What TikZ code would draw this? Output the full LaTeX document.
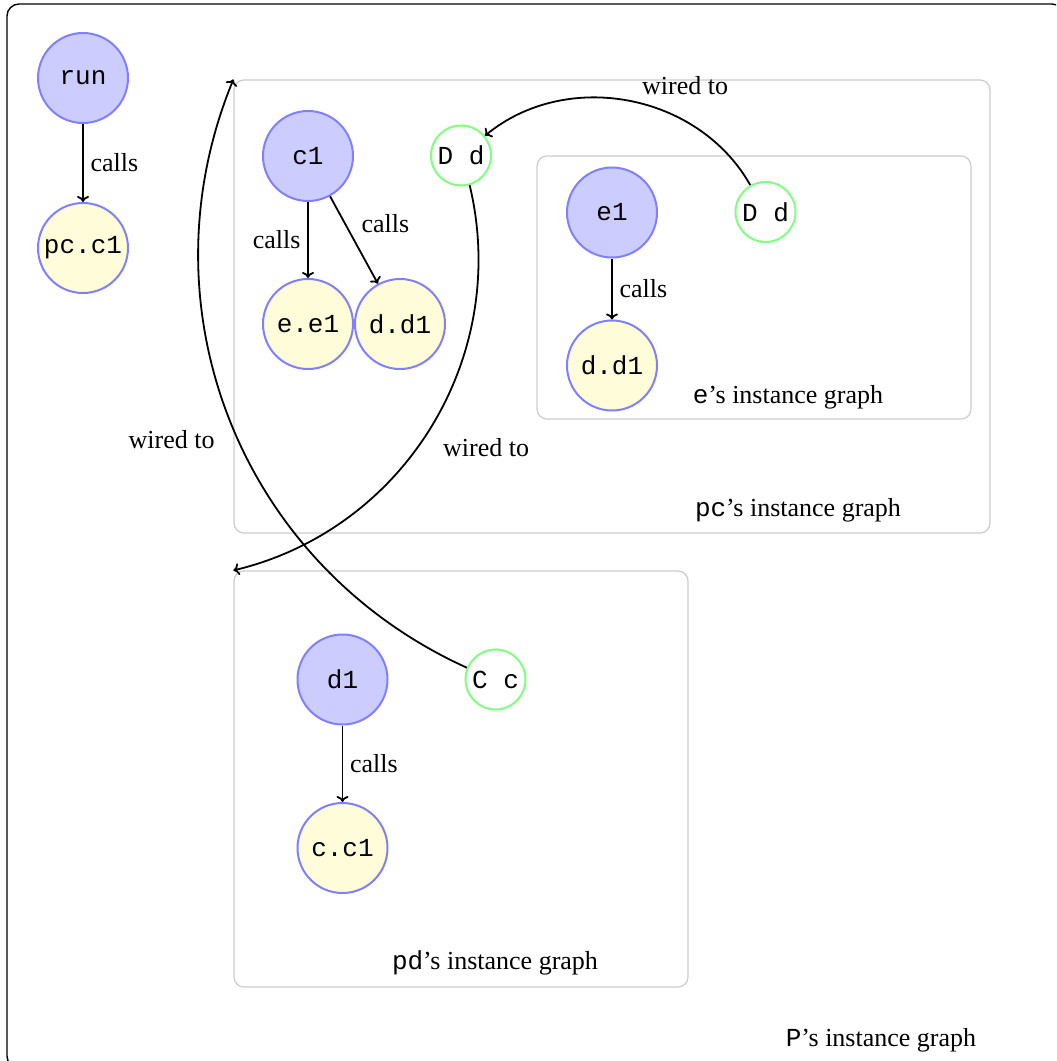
\documentclass[tikz,border=0pt]{standalone}
\usepackage{fontspec}
\setmainfont{Liberation Serif}
\setmonofont{Liberation Mono}
\usetikzlibrary{arrows.meta}

\tikzset{
  comp/.style={circle,draw=blue!50,fill=blue!20,line width=1pt,minimum size=45pt,inner sep=1pt},
  inst/.style={comp,fill=yellow!15},
  port/.style={circle,draw=green!50,line width=1pt,minimum size=30pt,inner sep=1pt},
  graphbox/.style={draw=gray!40,rounded corners=5pt,line width=0.6pt},
  calls/.style={-{To[length=3pt,width=6pt]},line width=0.9pt},
  wired/.style={calls}
}

\begin{document}
\begin{tikzpicture}[x=0.5pt,y=-0.5pt,font=\fontsize{13}{15}\selectfont]
\useasboundingbox (0,0) rectangle (1056,1061);
\clip (0,0) rectangle (1056,1061);
% P's instance graph
\draw[rounded corners=6pt,line width=0.7pt] (7,4) rectangle (1064,1068);
\node (plabel) at (881,1040) {\texttt{P}'s instance graph};
\node[comp] (run) at (83,78) {\texttt{run}};
\node[inst] (pcc1) at (83,248) {\texttt{pc.c1}};
\draw[calls] (run) -- node[right] {calls} (pcc1);

% pc's instance graph
\node[graphbox,minimum width=378pt,minimum height=226.5pt] (pcbox) at (612,306.5) {};
\node (pclabel) at (798,510) {\texttt{pc}'s instance graph};
\node[comp] (c1) at (308,156) {\texttt{c1}};
\node[inst] (ee1) at (308,324) {\texttt{e.e1}};
\node[inst] (dd1) at (400,324) {\texttt{d.d1}};
\node[port] (pcdd) at (461,155.5) {\texttt{D d}};
\draw[calls] (c1) -- node[left] {calls} (ee1);
\draw[calls] (c1) -- node[above right] {calls} (dd1);

% e's instance graph
\node[graphbox,minimum width=217pt,minimum height=131.5pt] (ebox) at (754,287.5) {};
\node (elabel) at (788,397) {\texttt{e}'s instance graph};
\node[comp] (e1) at (612,212.5) {\texttt{e1}};
\node[inst] (edd1) at (612,365.5) {\texttt{d.d1}};
\node[port] (edd) at (765.5,212) {\texttt{D d}};
\draw[calls] (e1) -- node[right] {calls} (edd1);

% pd's instance graph
\node[graphbox,minimum width=227pt,minimum height=208pt] (pdbox) at (461,779) {};
\node (pdlabel) at (495,963) {\texttt{pd}'s instance graph};
\node[comp] (d1) at (342.5,679.5) {\texttt{d1}};
\node[inst] (cc1) at (342.5,848) {\texttt{c.c1}};
\node[port] (pdcc) at (495.5,679.5) {\texttt{C c}};
\draw[calls] (d1) -- node[right] {calls} (cc1);

% wiring
\draw[wired] (edd) to[bend right=50] node[pos=0.48,above right] {wired to} (pcdd);
\draw[wired] (pcdd) to[bend left=45] node[pos=0.55,right=9pt] {wired to} (pdbox.north west);
\draw[wired] (pdcc) to[bend left=44] node[pos=0.47,left=8pt] {wired to} (pcbox.north west);
\end{tikzpicture}
\end{document}
